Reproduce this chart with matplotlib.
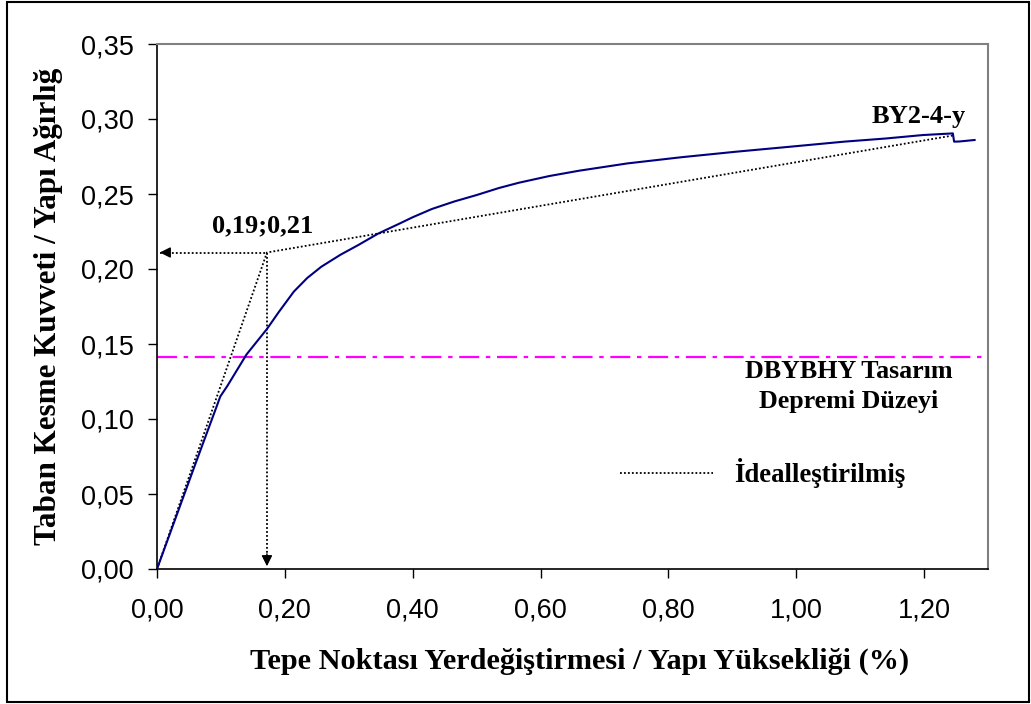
import matplotlib
matplotlib.use('Agg')
import matplotlib.pyplot as plt
from matplotlib.patches import Rectangle

# pushover curve (top displacement / height %, base shear / weight)
curve_x = [0, 0.03, 0.06, 0.093, 0.099, 0.11, 0.14, 0.172, 0.19, 0.214, 0.235, 0.257,
           0.287, 0.315, 0.3455, 0.38, 0.40, 0.43, 0.465, 0.50, 0.535, 0.566, 0.614,
           0.66, 0.736, 0.82, 0.906, 0.99, 1.075, 1.14, 1.198, 1.245, 1.247, 1.255, 1.279]
curve_y = [0, 0.035, 0.070, 0.108, 0.115, 0.122, 0.143, 0.160, 0.171, 0.1849, 0.194, 0.2015,
           0.2095, 0.216, 0.2235, 0.2304, 0.2345, 0.2400, 0.245, 0.2493, 0.254, 0.2575, 0.262,
           0.2655, 0.2704, 0.2745, 0.2782, 0.2815, 0.2849, 0.287, 0.2893, 0.2904, 0.2849, 0.2850, 0.2860]

# idealized bilinear curve
ideal_x = [0, 0.172, 1.245]
ideal_y = [0, 0.211, 0.289]

design_level = 0.1415
xticks = [0.0, 0.2, 0.4, 0.6, 0.8, 1.0, 1.2]
yticks = [0.0, 0.05, 0.10, 0.15, 0.20, 0.25, 0.30, 0.35]

serif = 'Liberation Serif'
sans = 'Liberation Sans'
dot = (0, (1, 1.2))

fig = plt.figure(figsize=(10.31, 7.04), dpi=100)
fig.patches.append(Rectangle((7 / 1031, 2 / 704), 1022 / 1031, 700 / 704, transform=fig.transFigure,
                             fill=False, edgecolor='black', lw=1.5))
ax = fig.add_axes([157 / 1031, 135 / 704, 831 / 1031, 525 / 704])

ax.plot(curve_x, curve_y, color='#000080', lw=1.5, zorder=3)
ax.plot(ideal_x, ideal_y, color='black', lw=1.3, ls=dot, zorder=2)
ax.axhline(design_level, color='#ff00ff', lw=1.6, dashes=[9, 3, 2, 3], zorder=2)

# guide lines to the yield point
px, py = ideal_x[1], ideal_y[1]
ax.plot([0.005, px], [py, py], color='black', lw=1.3, ls=dot, clip_on=False)
ax.plot([px, px], [py, 0.005], color='black', lw=1.3, ls=dot, clip_on=False)
ax.annotate('', xy=(0, py), xytext=(0.02, py),
            arrowprops=dict(arrowstyle='-|>', color='black', lw=1, mutation_scale=16))
ax.annotate('', xy=(px, 0), xytext=(px, 0.012),
            arrowprops=dict(arrowstyle='-|>', color='black', lw=1, mutation_scale=16))

ax.text(0.165, 0.229, '0,19;0,21', family=serif, weight='bold', fontsize=19,
        ha='center', va='center')
ax.text(1.192, 0.3015, 'BY2-4-y', family=serif, weight='bold', fontsize=19,
        ha='center', va='center')
ax.text(1.082, 0.1217, 'DBYBHY Tasarım\nDepremi Düzeyi', family=serif, weight='bold',
        fontsize=18.7, ha='center', va='center', linespacing=1.4)

# legend entry for idealized curve
ax.plot([0.725, 0.87], [0.064, 0.064], color='black', lw=1.3, ls=dot)
ax.text(0.903, 0.064, 'İdealleştirilmiş', family=serif, weight='bold', fontsize=19.3,
        ha='left', va='center')

ax.set_xlim(0, 1.3)
ax.set_ylim(0, 0.35)
ax.set_xticks(xticks)
ax.set_yticks(yticks)
ax.set_xticklabels([f'{v:.2f}'.replace('.', ',') for v in xticks], family=sans, fontsize=19.5)
ax.set_yticklabels([f'{v:.2f}'.replace('.', ',') for v in yticks], family=sans, fontsize=19.5)
ax.tick_params(direction='out', length=6.5, width=1)
ax.tick_params(axis='y', pad=10)
ax.tick_params(axis='x', pad=14)

for s in ['left', 'bottom']:
    ax.spines[s].set_color('black')
    ax.spines[s].set_linewidth(1.2)
for s in ['top', 'right']:
    ax.spines[s].set_color('#808080')
    ax.spines[s].set_linewidth(1.5)

ax.set_xlabel('Tepe Noktası Yerdeğiştirmesi / Yapı Yüksekliği (%)', family=serif,
              weight='bold', fontsize=21.8, labelpad=16)
ax.xaxis.set_label_coords(0.509, -0.150)
ax.set_ylabel('Taban Kesme Kuvveti / Yapı Ağırlığ', family=serif, weight='bold',
              fontsize=22.4, labelpad=13)

fig.savefig('out.png', dpi=100)
